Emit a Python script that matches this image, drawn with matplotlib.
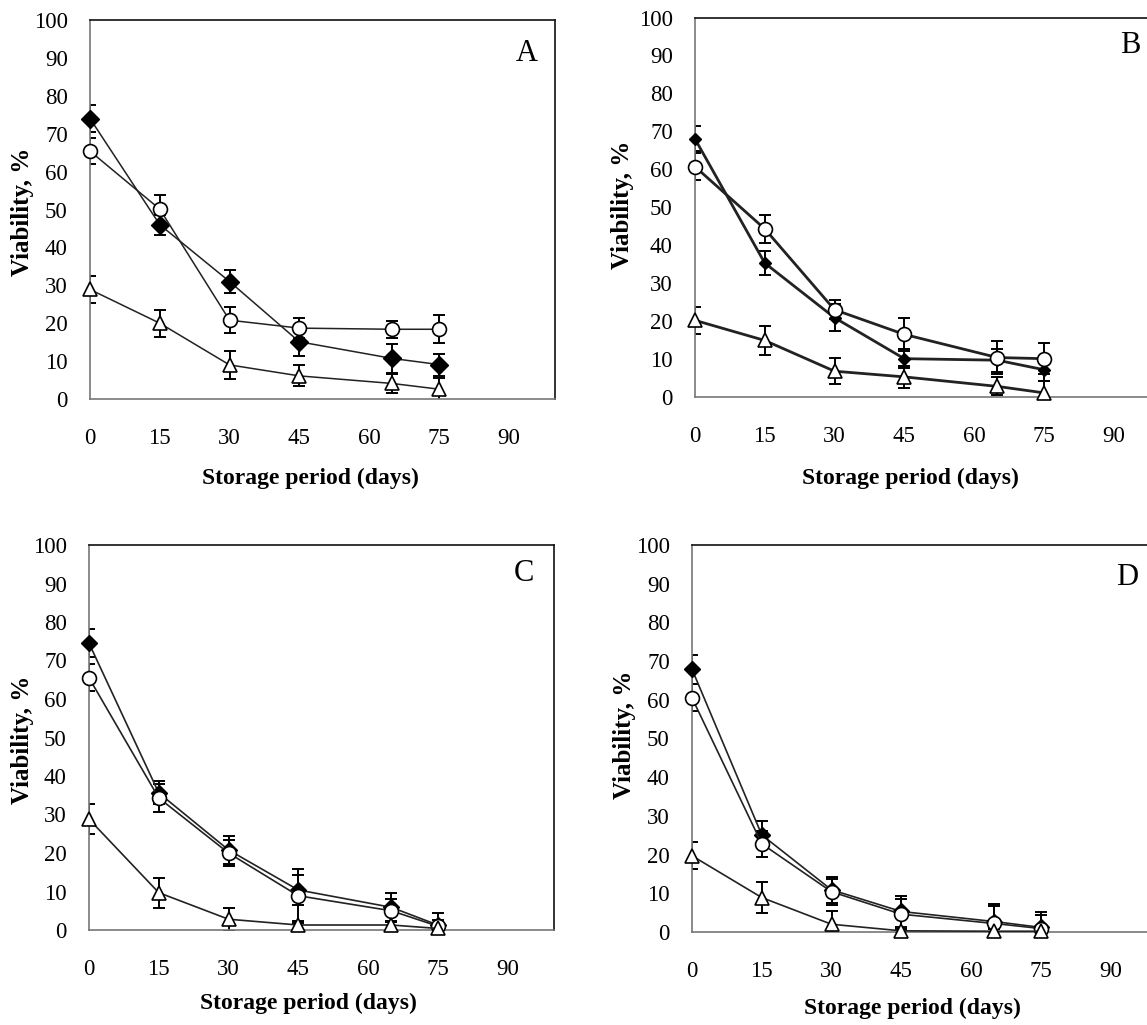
import matplotlib
matplotlib.use("Agg")
import matplotlib.pyplot as plt

plt.rcParams['font.family'] = ['Liberation Serif', 'DejaVu Serif']

W, H = 1147, 1025

days = [0, 15, 30, 45, 65, 75]
x_ticks = [0, 15, 30, 45, 60, 75, 90]
y_ticks = [0, 10, 20, 30, 40, 50, 60, 70, 80, 90, 100]

# Panel A
A_diamond = [74.0, 46.0, 31.0, 15.1, 10.7, 9.1]
A_diamond_err = [3.5, 2.6, 3.0, 3.7, 3.8, 2.9]
A_circle = [65.4, 50.1, 20.8, 18.7, 18.4, 18.4]
A_circle_err = [3.5, 3.8, 3.5, 2.7, 2.3, 3.7]
A_tri = [28.9, 20.0, 9.0, 6.1, 4.1, 2.6]
A_tri_err = [3.5, 3.6, 3.6, 2.8, 2.4, 3.0]

# Panel B
B_diamond = [68.0, 35.3, 20.9, 10.1, 9.7, 7.2]
B_diamond_err = [3.3, 3.2, 3.6, 2.5, 3.0, 3.0]
B_circle = [60.7, 44.3, 23.0, 16.5, 10.4, 10.1]
B_circle_err = [3.5, 3.7, 2.5, 4.4, 4.3, 4.0]
B_tri = [20.2, 14.9, 6.8, 5.3, 2.8, 1.1]
B_tri_err = [3.6, 3.9, 3.4, 2.9, 2.4, 3.0]

# Panel C
C_diamond = [74.5, 35.6, 20.8, 10.4, 5.9, 1.3]
C_diamond_err = [3.7, 3.0, 3.7, 3.9, 3.7, 3.0]
C_circle = [65.5, 34.3, 20.0, 8.9, 5.0, 1.0]
C_circle_err = [3.5, 3.6, 3.5, 7.0, 3.0, 1.5]
C_tri = [28.8, 9.7, 2.8, 1.3, 1.3, 0.4]
C_tri_err = [3.9, 3.9, 3.0, 1.0, 1.0, 0.5]

# Panel D
D_diamond = [67.9, 25.1, 10.9, 5.3, 2.7, 1.2]
D_diamond_err = [3.7, 3.5, 3.3, 4.0, 4.5, 4.0]
D_circle = [60.5, 22.8, 10.4, 4.6, 2.2, 0.9]
D_circle_err = [3.5, 3.3, 3.3, 4.0, 4.5, 3.5]
D_tri = [19.7, 8.9, 2.0, 0.3, 0.2, 0.2]
D_tri_err = [3.5, 4.0, 3.5, 0.5, 0.5, 0.5]

panel_labels = ['A', 'B', 'C', 'D']
xlabel = 'Storage period (days)'
ylabel = 'Viability, %'

fig = plt.figure(figsize=(W / 100, H / 100), dpi=100)


def px_axes(left, right, top, bottom):
    return fig.add_axes([left / W, 1 - bottom / H, (right - left) / W, (bottom - top) / H])


def draw_panel(ax, series, lw, dsize, letter, lx, ly):
    ax.set_xlim(0, 100)
    ax.set_ylim(0, 100)
    ax.set_xticks(x_ticks)
    ax.set_yticks(y_ticks)
    ax.tick_params(length=0, labelsize=16.5)
    ax.tick_params(axis='x', pad=21)
    ax.tick_params(axis='y', pad=16)
    for s in ['left', 'bottom']:
        ax.spines[s].set_color('#777777')
        ax.spines[s].set_linewidth(1.2)
    for s in ['top', 'right']:
        ax.spines[s].set_color('#111111')
        ax.spines[s].set_linewidth(1.2)
    styles = [
        dict(marker='D', ms=dsize, mfc='black', mec='black'),
        dict(marker='o', ms=10, mfc='white', mec='black', mew=1.2),
        dict(marker='^', ms=9.5, mfc='white', mec='black', mew=1.2),
    ]
    for (vals, errs), st in zip(series, styles):
        ax.errorbar(days, vals, yerr=errs, fmt='none', ecolor='black',
                    elinewidth=1.4, capsize=4.5, capthick=1.4, zorder=2)
        ax.plot(days, vals, color='#222222', lw=lw, zorder=3, clip_on=False, **st)
    ax.text(lx, ly, letter, transform=ax.transAxes, fontsize=22,
            ha='center', va='center')


# A
axA = px_axes(90, 555, 20, 399)
draw_panel(axA, [(A_diamond, A_diamond_err), (A_circle, A_circle_err), (A_tri, A_tri_err)],
           1.1, 9.5, panel_labels[0], 0.94, 0.912)
# B
axB = px_axes(695, 1160, 17.5, 397)
draw_panel(axB, [(B_diamond, B_diamond_err), (B_circle, B_circle_err), (B_tri, B_tri_err)],
           2.0, 6.0, panel_labels[1], 0.935, 0.925)
# C
axC = px_axes(89, 554, 545, 930)
draw_panel(axC, [(C_diamond, C_diamond_err), (C_circle, C_circle_err), (C_tri, C_tri_err)],
           1.2, 8.5, panel_labels[2], 0.935, 0.925)
# D
axD = px_axes(692, 1157, 545, 932)
draw_panel(axD, [(D_diamond, D_diamond_err), (D_circle, D_circle_err), (D_tri, D_tri_err)],
           1.2, 8.5, panel_labels[3], 0.935, 0.915)

# axis labels (figure pixel positions)
def ftext(x, y, s, size, **kw):
    fig.text(x / W, 1 - y / H, s, fontsize=size, fontweight='bold',
             ha='center', va='center', **kw)

ftext(310, 478, xlabel, 17)
ftext(910, 478, xlabel, 17)
ftext(308, 1003, xlabel, 17)
ftext(912, 1008, xlabel, 17)
ftext(22, 212, ylabel, 18, rotation=90)
ftext(622, 205, ylabel, 18, rotation=90)
ftext(22, 740, ylabel, 18, rotation=90)
ftext(624, 735, ylabel, 18, rotation=90)

fig.savefig('out.png', dpi=100, facecolor='white')
